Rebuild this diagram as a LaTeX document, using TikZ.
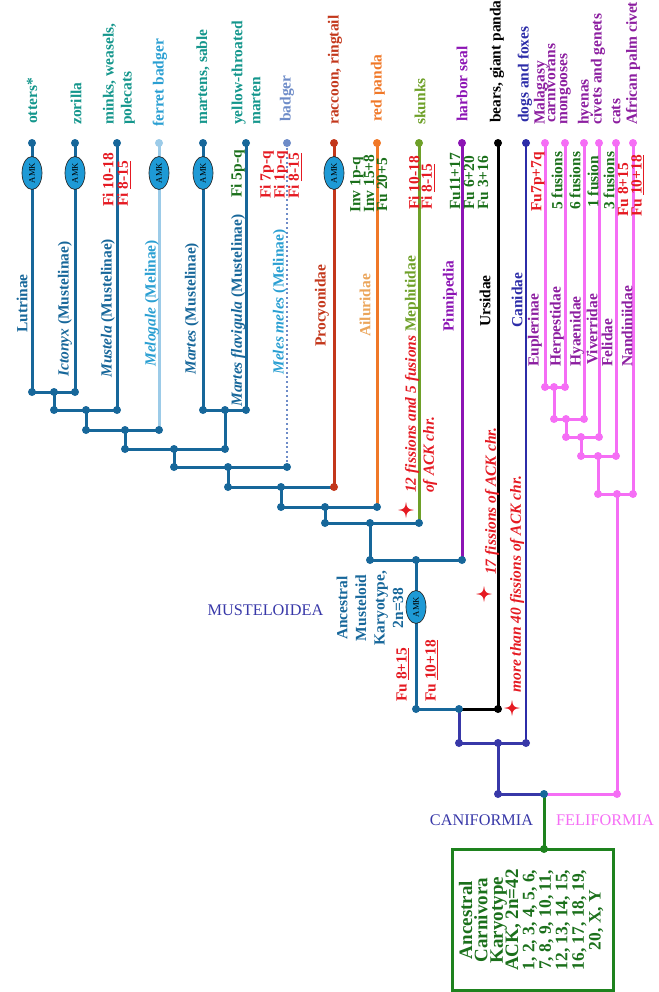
\documentclass[tikz,border=0pt]{standalone}
\usepackage{fontspec}
\setmainfont{Liberation Serif}
\usetikzlibrary{backgrounds,shapes.geometric}
\definecolor{cSteel}{HTML}{17679A}
\definecolor{cTeal}{HTML}{14968C}
\definecolor{cLblue}{HTML}{2A9FD2}
\definecolor{cLline}{HTML}{9CCBE8}
\definecolor{cBadger}{HTML}{6E8CC8}
\definecolor{cRbrown}{HTML}{C3371B}
\definecolor{cOrg}{HTML}{F07828}
\definecolor{cTan}{HTML}{EBA55A}
\definecolor{cOlive}{HTML}{6EA028}
\definecolor{cPurp}{HTML}{8C14B4}
\definecolor{cBlue}{HTML}{2C2CA8}
\definecolor{cDblue}{HTML}{3838A8}
\definecolor{cPink}{HTML}{F56EF5}
\definecolor{cFpurp}{HTML}{8C1EA0}
\definecolor{cRtxt}{HTML}{E51A22}
\definecolor{cGtxt}{HTML}{1B701B}
\definecolor{cBox}{HTML}{1E821E}
\definecolor{cAmk}{HTML}{1E9AD6}
\newcommand{\tightleading}{\lineskiplimit=-30pt\relax}
\newcommand{\sparkle}[2]{\begin{scope}[shift={(#1,#2)}]\fill[cRtxt] (0,-8) .. controls (1,-1.5) and (1.5,-1) .. (8,0) .. controls (1.5,1) and (1,1.5) .. (0,8) .. controls (-1,1.5) and (-1.5,1) .. (-8,0) .. controls (-1.5,-1) and (-1,-1.5) .. (0,-8) -- cycle;\end{scope}}
\begin{document}
\begin{tikzpicture}[x=0.75pt,y=-0.75pt,
  jdot/.style={circle,fill=#1,inner sep=0,minimum size=6pt},
  br/.style={line width=2.25pt,draw=#1},
  lab/.style={rotate=90,anchor=west,inner sep=0,text=#1,font=\fontsize{11.6}{13.5}\selectfont\bfseries\tightleading},
  amk/.style={ellipse,draw=black!85,line width=0.5pt,fill=cAmk,rotate=90,inner sep=0,minimum width=24.75pt,minimum height=15pt,font=\fontsize{6.5}{7}\selectfont},
  big/.style={inner sep=0,text=#1,font=\fontsize{12.2}{14}\selectfont}]
\useasboundingbox (0,0) rectangle (658,992);

% ---------- leaf tips ----------
\node[jdot=cSteel] (t1) at (32,143) {};
\node[jdot=cSteel] (t2) at (75,143) {};
\node[jdot=cSteel] (t3) at (117,143) {};
\node[jdot=cLline] (t4) at (159,143) {};
\node[jdot=cSteel] (t5) at (203,143) {};
\node[jdot=cSteel] (t6) at (246,143) {};
\node[jdot=cBadger] (t7) at (287,143) {};
\node[jdot=cRbrown] (t8) at (334,143) {};
\node[jdot=cOrg] (t9) at (377,143) {};
\node[jdot=cOlive] (t10) at (419,143) {};
\node[jdot=cPurp] (t11) at (462,143) {};
\node[jdot=black] (t12) at (498,143) {};
\node[jdot=cBlue] (t13) at (526,143) {};
\node[jdot=cPink] (t14) at (545,143) {};
\node[jdot=cPink] (t15) at (565,143) {};
\node[jdot=cPink] (t16) at (584,143) {};
\node[jdot=cPink] (t17) at (599,143) {};
\node[jdot=cPink] (t18) at (616,143) {};
\node[jdot=cPink] (t19) at (633,143) {};

% ---------- Musteloidea junctions ----------
\node[jdot=cSteel] (e1) at (32,392) {};
\node[jdot=cSteel] (n1) at (54,392) {};
\node[jdot=cSteel] (e2) at (75,392) {};
\node[jdot=cSteel] (n1b) at (54,410) {};
\node[jdot=cSteel] (n2) at (86,410) {};
\node[jdot=cSteel] (e3) at (117,410) {};
\node[jdot=cSteel] (n2b) at (86,430) {};
\node[jdot=cSteel] (n3) at (125,430) {};
\node[jdot=cSteel] (e4) at (159,430) {};
\node[jdot=cSteel] (e5) at (203,410) {};
\node[jdot=cSteel] (n4) at (225,410) {};
\node[jdot=cSteel] (e6) at (246,410) {};
\node[jdot=cSteel] (n3b) at (125,449) {};
\node[jdot=cSteel] (n5) at (174,449) {};
\node[jdot=cSteel] (n4b) at (225,449) {};
\node[jdot=cSteel] (n5b) at (174,467) {};
\node[jdot=cSteel] (n6) at (228,467) {};
\node[jdot=cSteel] (e7) at (287,467) {};
\node[jdot=cSteel] (n6b) at (228,487) {};
\node[jdot=cSteel] (n7) at (281,487) {};
\node[jdot=cRbrown] (e8) at (334,487) {};
\node[jdot=cSteel] (n7b) at (281,507) {};
\node[jdot=cSteel] (n8) at (325,507) {};
\node[jdot=cSteel] (e9) at (377,507) {};
\node[jdot=cSteel] (n8b) at (325,523) {};
\node[jdot=cSteel] (n9) at (370,523) {};
\node[jdot=cSteel] (e10) at (419,523) {};
\node[jdot=cSteel] (n9b) at (370,560) {};
\node[jdot=cSteel] (n10) at (416,560) {};
\node[jdot=cSteel] (e11) at (462,560) {};
\node[jdot=cSteel] (n10b) at (416,709) {};
\node[jdot=cSteel] (n11) at (459,709) {};
\node[jdot=black] (e12) at (498,709) {};
\node[jdot=cDblue] (n11b) at (459,743) {};
\node[jdot=cDblue] (n12) at (498,743) {};
\node[jdot=cDblue] (e13) at (526,743) {};
\node[jdot=cDblue] (n12b) at (498,794) {};
\node[jdot=cSteel] (root) at (544,794) {};
\node[jdot=cPink] (f0) at (617,794) {};

% ---------- Feliformia junctions ----------
\node[jdot=cPink] (e14) at (545,387) {};
\node[jdot=cPink] (m1) at (554,387) {};
\node[jdot=cPink] (e15) at (565,387) {};
\node[jdot=cPink] (m1b) at (554,419) {};
\node[jdot=cPink] (m2) at (566,419) {};
\node[jdot=cPink] (e16) at (584,419) {};
\node[jdot=cPink] (m2b) at (566,437) {};
\node[jdot=cPink] (m3) at (581,437) {};
\node[jdot=cPink] (e17) at (599,437) {};
\node[jdot=cPink] (m3b) at (581,456) {};
\node[jdot=cPink] (m4) at (598,456) {};
\node[jdot=cPink] (e18) at (616,456) {};
\node[jdot=cPink] (m4b) at (598,494) {};
\node[jdot=cPink] (m5) at (617,494) {};
\node[jdot=cPink] (e19) at (633,494) {};

% ---------- AMK ellipses ----------
\node[amk] (a1) at (32,173) {AMK};
\node[amk] (a2) at (75,173) {AMK};
\node[amk] (a3) at (159,173) {AMK};
\node[amk] (a4) at (203,173) {AMK};
\node[amk] (a5) at (334,173) {AMK};
\node[amk] (a6) at (416,607) {AMK};

% ---------- ACK box ----------
\node[rotate=90,draw=cBox,line width=2.25pt,minimum width=105.75pt,minimum height=120.75pt,inner sep=0] (ack) at (532.5,919.5) {};
\node[jdot=cBox] (boxtop) at (544,849) {};
\node[rotate=90,inner sep=0,align=center,text=cGtxt,font=\fontsize{14.25}{11.5}\selectfont\bfseries\tightleading] (ttl) at (490,920) {Ancestral\\Carnivora\\Karyotype\\ACK, 2n=42};
\node[rotate=90,inner sep=0,align=center,text=cGtxt,font=\fontsize{13.1}{12.4}\selectfont\bfseries\tightleading] (nums) at (563,920) {1, 2, 3, 4, 5, 6,\\7, 8, 9, 10, 11,\\12, 13, 14, 15,\\16, 17, 18, 19,\\20, X, Y};

% ---------- connectors ----------
\begin{scope}[on background layer]
\draw[br=cSteel] (t1.center) -- (e1.center);
\draw[br=cSteel] (t2.center) -- (e2.center);
\draw[br=cSteel] (e1.center) -- (e2.center);
\draw[br=cSteel] (n1.center) -- (n1b.center);
\draw[br=cSteel] (t3.center) -- (e3.center);
\draw[br=cSteel] (n1b.center) -- (e3.center);
\draw[br=cSteel] (n2.center) -- (n2b.center);
\draw[br=cLline] (t4.center) -- (e4.center);
\draw[br=cSteel] (n2b.center) -- (e4.center);
\draw[br=cSteel] (n3.center) -- (n3b.center);
\draw[br=cSteel] (t5.center) -- (e5.center);
\draw[br=cSteel] (t6.center) -- (e6.center);
\draw[br=cSteel] (e5.center) -- (e6.center);
\draw[br=cSteel] (n4.center) -- (n4b.center);
\draw[br=cSteel] (n3b.center) -- (n4b.center);
\draw[br=cSteel] (n5.center) -- (n5b.center);
\draw[line width=1.5pt,draw=cBadger,dotted] (t7.center) -- (e7.center);
\draw[br=cSteel] (n5b.center) -- (e7.center);
\draw[br=cSteel] (n6.center) -- (n6b.center);
\draw[br=cRbrown] (t8.center) -- (e8.center);
\draw[br=cSteel] (n6b.center) -- (e8.center);
\draw[br=cSteel] (n7.center) -- (n7b.center);
\draw[br=cOrg] (t9.center) -- (e9.center);
\draw[br=cSteel] (n7b.center) -- (e9.center);
\draw[br=cSteel] (n8.center) -- (n8b.center);
\draw[br=cOlive] (t10.center) -- (e10.center);
\draw[br=cSteel] (n8b.center) -- (e10.center);
\draw[br=cSteel] (n9.center) -- (n9b.center);
\draw[br=cPurp] (t11.center) -- (e11.center);
\draw[br=cSteel] (n9b.center) -- (e11.center);
\draw[br=cSteel] (n10.center) -- (n10b.center);
\draw[br=black] (t12.center) -- (e12.center);
\draw[br=cSteel] (n10b.center) -- (n11.center);
\draw[br=black] (n11.center) -- (e12.center);
\draw[br=cDblue] (n11.center) -- (n11b.center);
\draw[line width=1.5pt,draw=cBlue] (t13.center) -- (e13.center);
\draw[br=cDblue] (n11b.center) -- (e13.center);
\draw[br=cDblue] (n12.center) -- (n12b.center);
\draw[br=cDblue] (n12b.center) -- (root.center);
\draw[br=cPink] (root.center) -- (f0.center);
\draw[br=cBox] (root.center) -- (boxtop.center);
% feliformia
\draw[br=cPink] (t14.center) -- (e14.center);
\draw[br=cPink] (t15.center) -- (e15.center);
\draw[br=cPink] (e14.center) -- (e15.center);
\draw[br=cPink] (m1.center) -- (m1b.center);
\draw[br=cPink] (t16.center) -- (e16.center);
\draw[br=cPink] (m1b.center) -- (e16.center);
\draw[br=cPink] (m2.center) -- (m2b.center);
\draw[br=cPink] (t17.center) -- (e17.center);
\draw[br=cPink] (m2b.center) -- (e17.center);
\draw[br=cPink] (m3.center) -- (m3b.center);
\draw[br=cPink] (t18.center) -- (e18.center);
\draw[br=cPink] (m3b.center) -- (e18.center);
\draw[br=cPink] (m4.center) -- (m4b.center);
\draw[br=cPink] (t19.center) -- (e19.center);
\draw[br=cPink] (m4b.center) -- (e19.center);
\draw[br=cPink] (m5.center) -- (f0.center);
\end{scope}

% ---------- leaf names ----------
\node[lab=cTeal] (l1) at (32,124) {otters*};
\node[lab=cTeal] (l2) at (76,125) {zorilla};
\node[lab=cTeal,align=left] (l3) at (119,125) {minks, weasels,\\polecats};
\node[lab=cLblue] (l4) at (160,127) {ferret badger};
\node[lab=cTeal] (l5) at (203,125) {martens, sable};
\node[lab=cTeal,align=left] (l6) at (246,125) {yellow-throated\\marten};
\node[lab=cBadger] (l7) at (287,122) {badger};
\node[lab=cRbrown] (l8) at (335,125) {raccoon, ringtail};
\node[lab=cOrg] (l9) at (378,122) {red panda};
\node[lab=cOlive] (l10) at (420,125) {skunks};
\node[lab=cPurp] (l11) at (462,122) {harbor seal};
\node[lab=black] (l12) at (497,123) {bears, giant panda};
\node[lab=cBlue] (l13) at (525,123) {dogs and foxes};
\node[lab=cFpurp] (l14a) at (541,125) {Malagasy};
\node[lab=cFpurp] (l14b) at (550,123) {carnivorans};
\node[lab=cFpurp] (l15) at (565,125) {mongooses};
\node[lab=cFpurp] (l16) at (585,125) {hyenas};
\node[lab=cFpurp] (l17) at (598,125) {civets and genets};
\node[lab=cFpurp] (l18) at (616,125) {cats};
\node[lab=cFpurp] (l19) at (633,125) {African palm civet};

% ---------- chromosome changes on branches ----------
\node[lab=cRtxt] (k1) at (108,207) {Fi 10-18};
\node[lab=cRtxt] (k2) at (124,207) {Fi \underline{8-15}};
\node[lab=cGtxt] (k3) at (238,198) {Fi 5p-q};
\node[lab=cRtxt] (k4) at (267,199) {Fi 7p-q};
\node[lab=cRtxt] (k5) at (281,199) {Fi 1p-q};
\node[lab=cRtxt] (k6) at (295,199) {Fi \underline{8-15}};
\node[lab=cGtxt] (k7) at (357,213) {Inv 1p-q};
\node[lab=cGtxt] (k8) at (369,213) {Inv 15+8};
\node[lab=cGtxt] (k9) at (382,212) {Fu 20+5};
\node[lab=cRtxt] (k10) at (414,210) {Fi 10-18};
\node[lab=cRtxt] (k11) at (428,210) {Fi \underline{8-15}};
\node[lab=cGtxt] (k12) at (455,210) {Fu11+17};
\node[lab=cGtxt] (k13) at (469,210) {Fu 6+20};
\node[lab=cGtxt] (k14) at (483,210) {Fu 3+16};
\node[lab=cRtxt] (k15) at (538,212) {Fu7p+7q};
\node[lab=cGtxt] (k16) at (557,210) {5 fusions};
\node[lab=cGtxt] (k17) at (575,210) {6 fusions};
\node[lab=cGtxt] (k18) at (593,208) {1 fusion};
\node[lab=cGtxt] (k19) at (609,210) {3 fusions};
\node[lab=cRtxt] (k20) at (623,217) {Fu 8+15};
\node[lab=cRtxt] (k21) at (638,217) {Fu \underline{10+18}};

% ---------- group names ----------
\node[lab=cSteel] (g1) at (22,333) {Lutrinae};
\node[lab=cSteel] (g2) at (65,377) {\itshape Ictonyx\upshape{} (Mustelinae)};
\node[lab=cSteel] (g3) at (108,378) {\itshape Mustela\upshape{} (Mustelinae)};
\node[lab=cLblue] (g4) at (152,367) {\itshape Melogale\upshape{} (Melinae)};
\node[lab=cSteel] (g5) at (192,375) {\itshape Martes\upshape{} (Mustelinae)};
\node[lab=cSteel] (g6) at (238,407) {\itshape Martes flavigula\upshape{} (Mustelinae)};
\node[lab=cLblue] (g7) at (280,375) {\itshape Meles meles\upshape{} (Melinae)};
\node[lab=cRbrown] (g8) at (322,347) {Procyonidae};
\node[lab=cTan] (g9) at (365,337) {Ailuridae};
\node[lab=cOlive] (g10) at (412,332) {Mephitidae};
\node[lab=cPurp] (g11) at (450,332) {Pinnipedia};
\node[lab=black] (g12) at (485,327) {Ursidae};
\node[lab=cBlue] (g13) at (517,328) {Canidae};
\node[lab=cFpurp] (g14) at (535,367) {Euplerinae};
\node[lab=cFpurp] (g15) at (557,367) {Herpestidae};
\node[lab=cFpurp] (g16) at (577,367) {Hyaenidae};
\node[lab=cFpurp] (g17) at (592,365) {Viverridae};
\node[lab=cFpurp] (g18) at (607,367) {Felidae};
\node[lab=cFpurp] (g19) at (627,367) {Nandiniidae};

% ---------- fission notes ----------
\sparkle{406}{510}
\sparkle{484}{594}
\sparkle{512}{708}
\node[lab=cRtxt] (s1a) at (412,493) {\itshape 12 fissions and 5 fusions};
\node[lab=cRtxt] (s1b) at (430,493) {\itshape of ACK chr.};
\node[lab=cRtxt] (s2) at (492,575) {\itshape 17 fissions of ACK chr.};
\node[lab=cRtxt] (s3) at (517,693) {\itshape more than 40 fissions of ACK chr.};

% ---------- Ancestral Musteloid ----------
\node[rotate=90,inner sep=0,align=center,text=cSteel,font=\fontsize{11.6}{13.9}\selectfont\bfseries\tightleading] (amkt) at (370,608) {Ancestral\\Musteloid\\Karyotype,\\2n=38};
\node[lab=cRtxt] (fu1) at (403,702) {Fu \underline{8+15}};
\node[lab=cRtxt] (fu2) at (432,702) {Fu \underline{10+18}};

% ---------- clade names ----------
\node[big=cDblue] (musl) at (265.5,610) {MUSTELOIDEA};
\node[big=cDblue] (canl) at (481.5,820) {CANIFORMIA};
\node[big=cPink] (fell) at (605,820) {FELIFORMIA};
\end{tikzpicture}
\end{document}
